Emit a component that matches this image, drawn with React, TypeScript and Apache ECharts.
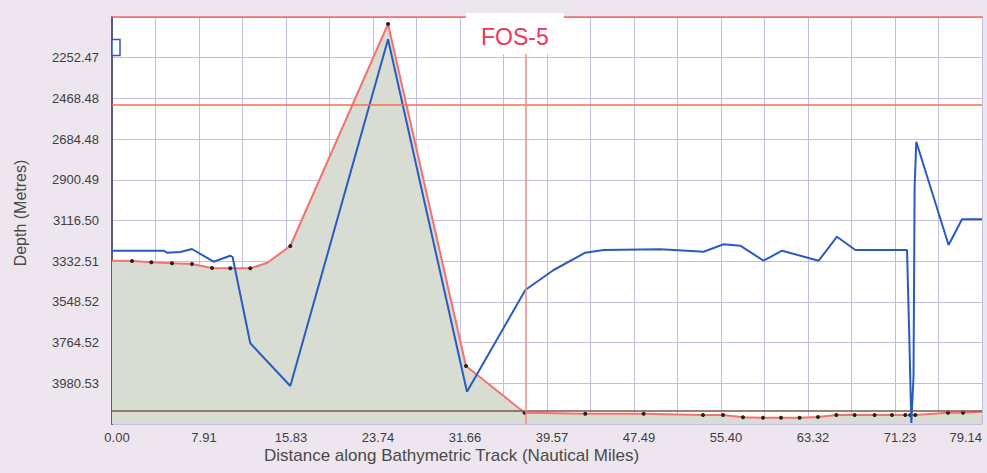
import React, { useEffect, useRef } from "react";
import * as echarts from "echarts";

// Tick labels
const xTickLabels = ["0.00", "7.91", "15.83", "23.74", "31.66", "39.57", "47.49", "55.40", "63.32", "71.23", "79.14"];
const yTickLabels = ["", "2252.47", "2468.48", "2684.48", "2900.49", "3116.50", "3332.51", "3548.52", "3764.52", "3980.53", ""];

// Seabed profile (red, with soundings)
const profileMiles = [0, 1.82, 3.58, 5.46, 7.28, 9.1, 10.76, 12.58, 14.1, 16.22, 25.11, 32.2, 37.53, 43.05, 48.36, 53.76, 55.58, 57.4, 59.22, 60.86, 62.55, 64.22, 65.89, 67.55, 69.37, 70.95, 72.16, 72.62, 73.07, 76.05, 77.41, 79.14];
const profileDepth = [3329.9, 3331.5, 3338.3, 3343.7, 3347.4, 3368.6, 3370.2, 3370.2, 3342.0, 3251.8, 2073.6, 3888.7, 4136.5, 4141.8, 4141.8, 4148.7, 4148.7, 4160.9, 4163.0, 4163.0, 4163.0, 4159.2, 4148.7, 4148.7, 4148.7, 4148.7, 4148.7, 4148.7, 4148.7, 4136.5, 4136.5, 4131.2];
const profileSounding = [false, true, true, true, true, true, true, true, false, true, true, true, true, true, true, true, true, true, true, true, true, true, true, true, true, true, true, true, true, true, true, false];

// Track (blue)
const trackMiles = [0, 4.69, 5.0, 6.21, 7.28, 9.24, 10.76, 10.97, 12.58, 16.22, 25.11, 32.29, 37.6, 40.17, 43.05, 44.72, 49.88, 52.31, 53.82, 55.64, 57.15, 59.27, 60.95, 64.28, 65.95, 67.62, 72.32, 72.53, 72.71, 72.91, 73.01, 73.16, 76.1, 77.32, 79.14];
const trackDepth = [3276.8, 3276.8, 3287.4, 3283.7, 3267.8, 3335.2, 3303.3, 3310.2, 3768.2, 3994.8, 2154.8, 4025.1, 3485.4, 3379.2, 3287.4, 3273.1, 3269.4, 3276.8, 3282.1, 3242.8, 3250.3, 3329.9, 3276.8, 3329.9, 3202.5, 3273.1, 3273.1, 3740.1, 4191.3, 3945.5, 2944.0, 2698.3, 3246.5, 3110.1, 3110.1];

// Reference lines
const refDepth = 2503.5;
const seabedDepth = 4127.6;
const refMile = 37.66;

const X_MIN = 0;
const X_MAX = 79.14;
const X_INT = 3.957;
const Y_MIN = 2036.46;
const Y_MAX = 4196.54;
const Y_INT = 216.008;

const FONT = "'Liberation Sans', Arial, sans-serif";

export default function App() {
  const ref = useRef<HTMLDivElement>(null);
  useEffect(() => {
    if (!ref.current) return;
    const chart = echarts.init(ref.current, null, { renderer: "svg" });
    const profileData = profileMiles.map((m, i) => ({
      value: [m, profileDepth[i]],
      symbol: profileSounding[i] ? "circle" : "none",
    }));
    const trackData = trackMiles.map((m, i) => [m, trackDepth[i]]);
    const grid = "#c3bddf";
    chart.setOption({
      animation: false,
      backgroundColor: "#ede6ee",
      title: [
        {
          text: "FOS-5",
          left: 466,
          top: 13,
          padding: [12, 15, 6, 15],
          backgroundColor: "#ffffff",
          textStyle: { color: "#f2345a", fontSize: 23, fontWeight: "normal", fontFamily: FONT },
        },
        {
          text: "Distance along Bathymetric Track (Nautical Miles)",
          left: 264,
          top: 447,
          padding: 0,
          textStyle: { color: "#4a4a4a", fontSize: 17, fontWeight: "normal", fontFamily: FONT },
        },
      ],
      grid: {
        left: 112,
        right: 5,
        top: 17,
        bottom: 49,
        show: true,
        backgroundColor: "#ffffff",
        borderWidth: 0,
        containLabel: false,
        outerBoundsMode: "none",
      },
      xAxis: [
        {
          type: "value",
          min: X_MIN,
          max: X_MAX,
          interval: X_INT,
          axisLine: { show: false },
          axisTick: { show: false },
          axisLabel: {
            color: "#3e3e3e",
            fontSize: 13,
            fontFamily: FONT,
            margin: 7,
            padding: [0, 0, 0, 10],
            showMaxLabel: true,
            alignMaxLabel: "right",
            formatter: (v: number) => {
              const i = Math.round((v - X_MIN) / X_INT);
              return i % 2 === 0 ? xTickLabels[i / 2] : "";
            },
          },
          splitLine: { show: true, lineStyle: { color: grid, width: 1 } },
        },
        {
          type: "value",
          position: "top",
          min: X_MIN,
          max: X_MAX,
          axisLine: { show: true, lineStyle: { color: "#f26a6a", width: 1.5 } },
          axisTick: { show: false },
          axisLabel: { show: false },
          splitLine: { show: false },
        },
      ],
      yAxis: [
        {
          type: "value",
          inverse: true,
          min: Y_MIN,
          max: Y_MAX,
          interval: Y_INT,
          axisLine: { show: true, lineStyle: { color: "#2a5cc0", width: 2 } },
          axisTick: { show: false },
          axisLabel: {
            color: "#3e3e3e",
            fontSize: 13,
            fontFamily: FONT,
            margin: 13,
            formatter: (v: number) => {
              const i = Math.round((v - Y_MIN) / Y_INT);
              return yTickLabels[i] || "";
            },
          },
          splitLine: { show: true, lineStyle: { color: grid, width: 1 } },
        },
        {
          type: "value",
          position: "right",
          inverse: true,
          min: Y_MIN,
          max: Y_MAX,
          axisLine: { show: true, lineStyle: { color: "#6e5d5d", width: 1.5 } },
          axisTick: { show: false },
          axisLabel: { show: false },
          splitLine: { show: false },
        },
      ],
      graphic: [
        {
          type: "rect",
          shape: { x: 112, y: 39.5, width: 8, height: 16 },
          style: { fill: "#ffffff", stroke: "#2a5cc0", lineWidth: 1.5 },
          z: 100,
        },
        {
          type: "text",
          x: 20,
          y: 213,
          rotation: Math.PI / 2,
          style: {
            text: "Depth (Metres)",
            fill: "#4a4a4a",
            fontSize: 16,
            fontFamily: FONT,
            align: "center",
            verticalAlign: "middle",
          },
        },
      ],
      series: [
        {
          type: "line",
          name: "profile",
          data: profileData,
          symbolSize: 4,
          itemStyle: { color: "#222" },
          lineStyle: { color: "#f47272", width: 2 },
          areaStyle: { color: "#d9dcd2", opacity: 1, origin: "end" },
          z: 2,
          markLine: {
            silent: true,
            symbol: "none",
            label: { show: false },
            data: [
              { yAxis: refDepth, lineStyle: { color: "#f2704f", width: 1.5, type: "solid" } },
              { yAxis: seabedDepth, lineStyle: { color: "#7a5a44", width: 1.5, type: "solid" } },
              { xAxis: refMile, lineStyle: { color: "#f08a80", width: 1.5, type: "solid" } },
            ],
          },
        },
        {
          type: "line",
          name: "track",
          data: trackData,
          showSymbol: false,
          symbol: "none",
          lineStyle: { color: "#2a5cc0", width: 2 },
          z: 3,
        },
      ],
    });
    return () => chart.dispose();
  }, []);
  return <div ref={ref} style={{ position: "fixed", left: 0, top: 0, width: 987, height: 473 }} />;
}
